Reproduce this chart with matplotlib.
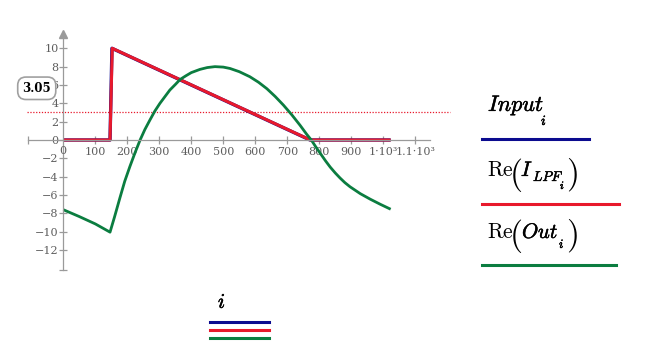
import matplotlib
matplotlib.use("Agg")
import matplotlib.pyplot as plt
import matplotlib.patheffects as pe

# values
i_input = [0, 146, 152, 771, 1023]
v_input = [0, 0, 10, 0, 0]

i_lpf = [0, 146, 153, 772, 1023]
v_lpf = [0, 0, 10, 0, 0]

i_out = [0, 50, 100, 146, 160, 177, 192, 208, 224, 240, 255, 271, 286, 302,
         318, 333, 350, 365, 383, 400, 427, 450, 474, 500, 521, 550, 583, 610,
         636, 662, 688, 714, 740, 760, 775, 790, 805, 820, 834, 850, 865, 880,
         896, 928, 959, 990, 1023]
v_out = [-7.6, -8.35, -9.15, -10.05, -8.4, -6.3, -4.5, -2.9, -1.4, 0, 1.15,
         2.2, 3.15, 4.0, 4.75, 5.45, 6.05, 6.6, 7.0, 7.35, 7.7, 7.9, 8.0, 7.95,
         7.8, 7.45, 6.9, 6.3, 5.6, 4.75, 3.8, 2.75, 1.6, 0.65, 0, -0.8, -1.55,
         -2.3, -2.95, -3.6, -4.15, -4.65, -5.1, -5.85, -6.45, -7.0, -7.55]

marker_y = 3.05
xticks = [100, 200, 300, 400, 500, 600, 700, 800, 900, 1000, 1100]
xlabels = ["100", "200", "300", "400", "500", "600", "700", "800", "900",
           "1·10³", "1.1·10³"]
yticks = [10, 8, 6, 4, 2, 0, -2, -4, -6, -8, -10, -12]

BLUE = "#0b0b8f"
RED = "#e8192c"
GREEN = "#0b7d40"
AXIS = "#9a9a9a"
LABEL = "#5e5e5e"

plt.rcParams["mathtext.fontset"] = "cm"

W, H = 648, 355
fig = plt.figure(figsize=(W / 100, H / 100), dpi=100)
ax = fig.add_axes([0, 0, 1, 1])

# pixel mapping: x px = 63.3 + 0.32*i ; y px = 140 - 9.17*v
ax.set_xlim(-63.3 / 0.32, (W - 63.3) / 0.32)
ax.set_ylim(-(H - 140) / 9.17, 140 / 9.17)

for s in ["top", "right"]:
    ax.spines[s].set_visible(False)
ax.spines["left"].set_position(("data", 0))
ax.spines["bottom"].set_position(("data", 0))
ax.spines["left"].set_bounds(-14.2, 11.4)
ax.spines["bottom"].set_bounds(-110, 1146)
for s in ["left", "bottom"]:
    ax.spines[s].set_color(AXIS)
    ax.spines[s].set_linewidth(0.9)

ax.set_xticks(xticks)
ax.set_xticklabels(xlabels)
ax.set_yticks(yticks)
ax.set_yticklabels([str(t).replace("-", "−") for t in yticks])
ax.set_xticks([-110], minor=True)
ax.set_yticks([-14.2], minor=True)
ax.tick_params(which="both", direction="inout", length=6, width=0.9,
               color=AXIS, labelcolor=LABEL, labelsize=8)
ax.tick_params(axis="x", pad=2.2)
ax.tick_params(axis="y", pad=0.5)
for lab in ax.get_xticklabels() + ax.get_yticklabels():
    lab.set_family("DejaVu Serif")
# "0" on x axis
ax.text(0, -1.2, "0", ha="center", va="center", fontsize=8,
        family="DejaVu Serif", color=LABEL)
# arrow on top of y axis
ax.plot([0], [11.6], marker="^", color=AXIS, markersize=5.5, clip_on=False)

# marker line
ax.plot([-113, 1208], [marker_y, marker_y], color=RED, lw=0.9,
        linestyle=(0, (1, 1.3)))
ax.text(-83, 5.64, f"{marker_y:.2f}", ha="center", va="center", fontsize=8.5,
        family="DejaVu Serif", weight="bold", color="black",
        bbox=dict(boxstyle="round,pad=0.4,rounding_size=0.7", fc="white",
                  ec="#a0a0a0", lw=1.2))

ax.plot(i_input, v_input, color=BLUE, lw=2.4, solid_capstyle="butt")
ax.plot(i_lpf, v_lpf, color=RED, lw=2.2, solid_capstyle="butt")
ax.plot(i_out, v_out, color=GREEN, lw=2.0, solid_capstyle="butt")


def px(x, y):
    return x / W, 1 - y / H


bold = [pe.withStroke(linewidth=0.35, foreground="black")]


def put(x, y, s, size, va="baseline", ha="left", effects=True):
    fig.text(*px(x, y), s, fontsize=size, va=va, ha=ha, color="black",
             path_effects=bold if effects else None)


def hline(x0, x1, y, c):
    fig.add_artist(plt.Line2D([x0 / W, x1 / W], [1 - y / H, 1 - y / H],
                              color=c, lw=2.2))


# legend on the right
put(488, 111, r"$Input$", 16)
put(541, 125, r"$i$", 10)
hline(482, 589, 139, BLUE)

put(487, 176, r"$\mathrm{Re}$", 15.5, effects=False)
put(516, 175, r"$($", 24, va="center", ha="center", effects=False)
put(521, 176, r"$I$", 15)
put(533, 181, r"$LPF$", 10)
put(560, 189, r"$i$", 8)
put(572, 175, r"$)$", 24, va="center", ha="center", effects=False)
hline(482, 619, 204, RED)

put(487, 238, r"$\mathrm{Re}$", 15.5, effects=False)
put(516, 236, r"$($", 24, va="center", ha="center", effects=False)
put(522, 238, r"$Out$", 15)
put(559, 248, r"$i$", 9)
put(572, 236, r"$)$", 24, va="center", ha="center", effects=False)
hline(482, 616, 265, GREEN)

# x-axis legend
put(222, 308, r"$i$", 15, ha="center")
for yy, c in [(322, BLUE), (330, RED), (338, GREEN)]:
    hline(210, 269, yy, c)

fig.savefig("out.png", dpi=100)
